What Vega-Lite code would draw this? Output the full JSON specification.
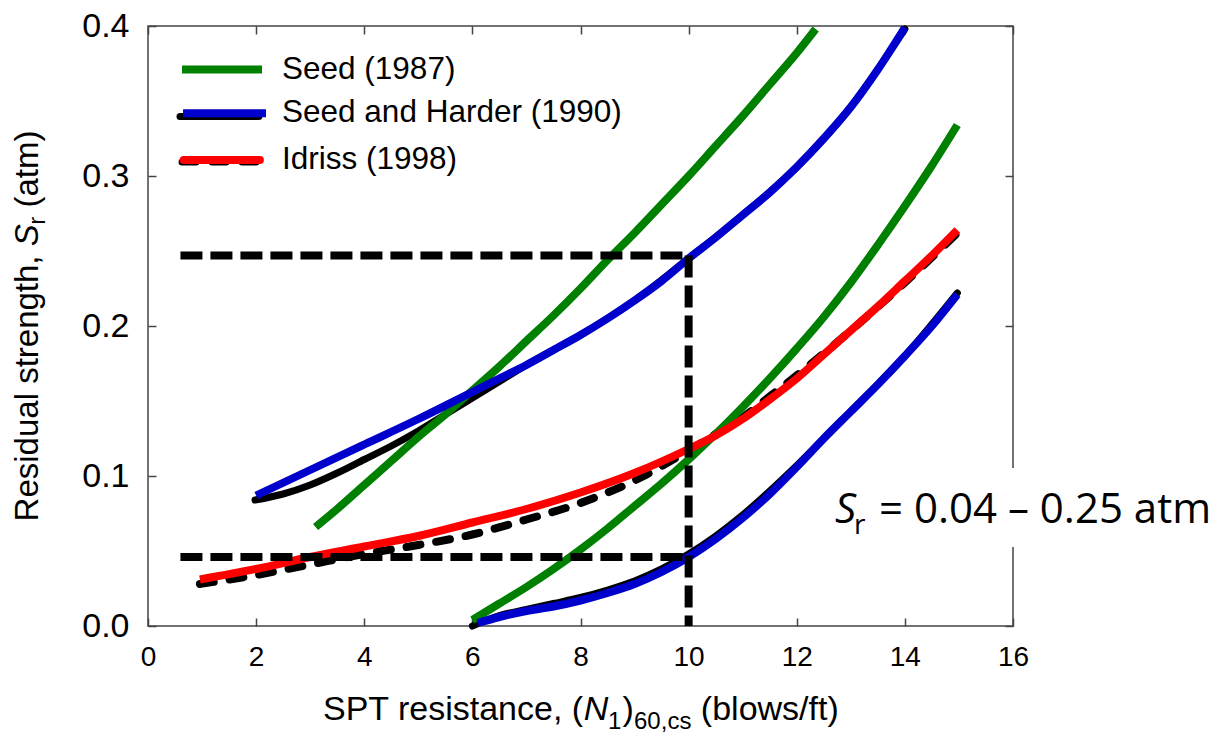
{
  "$schema": "https://vega.github.io/schema/vega-lite/v6.json",
  "width": 865,
  "height": 600,
  "autosize": {"type": "none"},
  "padding": {"left": 148, "top": 26, "right": 204, "bottom": 109},
  "background": "white",
  "config": {
    "view": {"stroke": "#444444", "strokeWidth": 1.5},
    "font": "Liberation Sans",
    "axis": {"grid": false, "domain": false, "title": null, "tickColor": "#444444", "tickWidth": 1.5, "tickSize": -8, "labelColor": "black", "labelFont": "Liberation Sans", "labelFlush": false, "labelOverlap": false}
  },
  "data": {"values": [{}]},
  "datasets": {
    "curves": [
      {"study": "Seed (1987)", "branch": "S87a", "n160": 3.1, "sr": 0.066},
      {"study": "Seed (1987)", "branch": "S87a", "n160": 3.5, "sr": 0.078},
      {"study": "Seed (1987)", "branch": "S87a", "n160": 4.0, "sr": 0.094},
      {"study": "Seed (1987)", "branch": "S87a", "n160": 4.5, "sr": 0.110},
      {"study": "Seed (1987)", "branch": "S87a", "n160": 5.0, "sr": 0.126},
      {"study": "Seed (1987)", "branch": "S87a", "n160": 5.5, "sr": 0.141},
      {"study": "Seed (1987)", "branch": "S87a", "n160": 6.0, "sr": 0.157},
      {"study": "Seed (1987)", "branch": "S87a", "n160": 6.5, "sr": 0.173},
      {"study": "Seed (1987)", "branch": "S87a", "n160": 7.0, "sr": 0.190},
      {"study": "Seed (1987)", "branch": "S87a", "n160": 7.5, "sr": 0.207},
      {"study": "Seed (1987)", "branch": "S87a", "n160": 8.0, "sr": 0.225},
      {"study": "Seed (1987)", "branch": "S87a", "n160": 8.5, "sr": 0.244},
      {"study": "Seed (1987)", "branch": "S87a", "n160": 9.0, "sr": 0.262},
      {"study": "Seed (1987)", "branch": "S87a", "n160": 9.5, "sr": 0.281},
      {"study": "Seed (1987)", "branch": "S87a", "n160": 10.0, "sr": 0.300},
      {"study": "Seed (1987)", "branch": "S87a", "n160": 10.5, "sr": 0.320},
      {"study": "Seed (1987)", "branch": "S87a", "n160": 11.0, "sr": 0.340},
      {"study": "Seed (1987)", "branch": "S87a", "n160": 11.5, "sr": 0.361},
      {"study": "Seed (1987)", "branch": "S87a", "n160": 12.0, "sr": 0.382},
      {"study": "Seed (1987)", "branch": "S87a", "n160": 12.35, "sr": 0.398},
      {"study": "Seed (1987)", "branch": "S87b", "n160": 6.0, "sr": 0.004},
      {"study": "Seed (1987)", "branch": "S87b", "n160": 6.5, "sr": 0.015},
      {"study": "Seed (1987)", "branch": "S87b", "n160": 7.0, "sr": 0.026},
      {"study": "Seed (1987)", "branch": "S87b", "n160": 7.5, "sr": 0.038},
      {"study": "Seed (1987)", "branch": "S87b", "n160": 8.0, "sr": 0.051},
      {"study": "Seed (1987)", "branch": "S87b", "n160": 8.5, "sr": 0.065},
      {"study": "Seed (1987)", "branch": "S87b", "n160": 9.0, "sr": 0.080},
      {"study": "Seed (1987)", "branch": "S87b", "n160": 9.5, "sr": 0.095},
      {"study": "Seed (1987)", "branch": "S87b", "n160": 10.0, "sr": 0.111},
      {"study": "Seed (1987)", "branch": "S87b", "n160": 10.5, "sr": 0.128},
      {"study": "Seed (1987)", "branch": "S87b", "n160": 11.0, "sr": 0.146},
      {"study": "Seed (1987)", "branch": "S87b", "n160": 11.5, "sr": 0.165},
      {"study": "Seed (1987)", "branch": "S87b", "n160": 12.0, "sr": 0.185},
      {"study": "Seed (1987)", "branch": "S87b", "n160": 12.5, "sr": 0.206},
      {"study": "Seed (1987)", "branch": "S87b", "n160": 13.0, "sr": 0.229},
      {"study": "Seed (1987)", "branch": "S87b", "n160": 13.5, "sr": 0.254},
      {"study": "Seed (1987)", "branch": "S87b", "n160": 14.0, "sr": 0.280},
      {"study": "Seed (1987)", "branch": "S87b", "n160": 14.5, "sr": 0.307},
      {"study": "Seed (1987)", "branch": "S87b", "n160": 14.97, "sr": 0.334},
      {"study": "Seed and Harder (1990)", "branch": "SH90a", "n160": 2.0, "sr": 0.087},
      {"study": "Seed and Harder (1990)", "branch": "SH90a", "n160": 3.0, "sr": 0.104},
      {"study": "Seed and Harder (1990)", "branch": "SH90a", "n160": 4.0, "sr": 0.121},
      {"study": "Seed and Harder (1990)", "branch": "SH90a", "n160": 5.0, "sr": 0.138},
      {"study": "Seed and Harder (1990)", "branch": "SH90a", "n160": 6.0, "sr": 0.156},
      {"study": "Seed and Harder (1990)", "branch": "SH90a", "n160": 6.5, "sr": 0.165},
      {"study": "Seed and Harder (1990)", "branch": "SH90a", "n160": 7.0, "sr": 0.174},
      {"study": "Seed and Harder (1990)", "branch": "SH90a", "n160": 7.5, "sr": 0.184},
      {"study": "Seed and Harder (1990)", "branch": "SH90a", "n160": 8.0, "sr": 0.194},
      {"study": "Seed and Harder (1990)", "branch": "SH90a", "n160": 8.5, "sr": 0.205},
      {"study": "Seed and Harder (1990)", "branch": "SH90a", "n160": 9.0, "sr": 0.217},
      {"study": "Seed and Harder (1990)", "branch": "SH90a", "n160": 9.5, "sr": 0.230},
      {"study": "Seed and Harder (1990)", "branch": "SH90a", "n160": 10.0, "sr": 0.245},
      {"study": "Seed and Harder (1990)", "branch": "SH90a", "n160": 10.5, "sr": 0.259},
      {"study": "Seed and Harder (1990)", "branch": "SH90a", "n160": 11.0, "sr": 0.274},
      {"study": "Seed and Harder (1990)", "branch": "SH90a", "n160": 11.5, "sr": 0.289},
      {"study": "Seed and Harder (1990)", "branch": "SH90a", "n160": 12.0, "sr": 0.306},
      {"study": "Seed and Harder (1990)", "branch": "SH90a", "n160": 12.5, "sr": 0.325},
      {"study": "Seed and Harder (1990)", "branch": "SH90a", "n160": 13.0, "sr": 0.346},
      {"study": "Seed and Harder (1990)", "branch": "SH90a", "n160": 13.5, "sr": 0.371},
      {"study": "Seed and Harder (1990)", "branch": "SH90a", "n160": 14.0, "sr": 0.399},
      {"study": "Seed and Harder (1990)", "branch": "SH90b", "n160": 6.1, "sr": 0.002},
      {"study": "Seed and Harder (1990)", "branch": "SH90b", "n160": 6.5, "sr": 0.006},
      {"study": "Seed and Harder (1990)", "branch": "SH90b", "n160": 7.0, "sr": 0.010},
      {"study": "Seed and Harder (1990)", "branch": "SH90b", "n160": 7.5, "sr": 0.013},
      {"study": "Seed and Harder (1990)", "branch": "SH90b", "n160": 8.0, "sr": 0.017},
      {"study": "Seed and Harder (1990)", "branch": "SH90b", "n160": 8.5, "sr": 0.022},
      {"study": "Seed and Harder (1990)", "branch": "SH90b", "n160": 9.0, "sr": 0.028},
      {"study": "Seed and Harder (1990)", "branch": "SH90b", "n160": 9.5, "sr": 0.036},
      {"study": "Seed and Harder (1990)", "branch": "SH90b", "n160": 10.0, "sr": 0.046},
      {"study": "Seed and Harder (1990)", "branch": "SH90b", "n160": 10.5, "sr": 0.058},
      {"study": "Seed and Harder (1990)", "branch": "SH90b", "n160": 11.0, "sr": 0.072},
      {"study": "Seed and Harder (1990)", "branch": "SH90b", "n160": 11.5, "sr": 0.088},
      {"study": "Seed and Harder (1990)", "branch": "SH90b", "n160": 12.0, "sr": 0.106},
      {"study": "Seed and Harder (1990)", "branch": "SH90b", "n160": 12.5, "sr": 0.125},
      {"study": "Seed and Harder (1990)", "branch": "SH90b", "n160": 13.0, "sr": 0.143},
      {"study": "Seed and Harder (1990)", "branch": "SH90b", "n160": 13.5, "sr": 0.161},
      {"study": "Seed and Harder (1990)", "branch": "SH90b", "n160": 14.0, "sr": 0.180},
      {"study": "Seed and Harder (1990)", "branch": "SH90b", "n160": 14.5, "sr": 0.200},
      {"study": "Seed and Harder (1990)", "branch": "SH90b", "n160": 14.97, "sr": 0.221},
      {"study": "Idriss (1998)", "branch": "I98", "n160": 0.96, "sr": 0.031},
      {"study": "Idriss (1998)", "branch": "I98", "n160": 2.0, "sr": 0.038},
      {"study": "Idriss (1998)", "branch": "I98", "n160": 3.0, "sr": 0.046},
      {"study": "Idriss (1998)", "branch": "I98", "n160": 4.0, "sr": 0.053},
      {"study": "Idriss (1998)", "branch": "I98", "n160": 5.0, "sr": 0.060},
      {"study": "Idriss (1998)", "branch": "I98", "n160": 6.0, "sr": 0.069},
      {"study": "Idriss (1998)", "branch": "I98", "n160": 7.0, "sr": 0.078},
      {"study": "Idriss (1998)", "branch": "I98", "n160": 8.0, "sr": 0.089},
      {"study": "Idriss (1998)", "branch": "I98", "n160": 9.0, "sr": 0.102},
      {"study": "Idriss (1998)", "branch": "I98", "n160": 10.0, "sr": 0.118},
      {"study": "Idriss (1998)", "branch": "I98", "n160": 10.5, "sr": 0.127},
      {"study": "Idriss (1998)", "branch": "I98", "n160": 11.0, "sr": 0.138},
      {"study": "Idriss (1998)", "branch": "I98", "n160": 11.5, "sr": 0.151},
      {"study": "Idriss (1998)", "branch": "I98", "n160": 12.0, "sr": 0.165},
      {"study": "Idriss (1998)", "branch": "I98", "n160": 12.5, "sr": 0.181},
      {"study": "Idriss (1998)", "branch": "I98", "n160": 13.0, "sr": 0.197},
      {"study": "Idriss (1998)", "branch": "I98", "n160": 13.5, "sr": 0.213},
      {"study": "Idriss (1998)", "branch": "I98", "n160": 14.0, "sr": 0.230},
      {"study": "Idriss (1998)", "branch": "I98", "n160": 14.5, "sr": 0.247},
      {"study": "Idriss (1998)", "branch": "I98", "n160": 14.97, "sr": 0.264}
    ],
    "traces": [
      {"source": "Seed and Harder (1990)", "branch": "SH90a", "n160": 1.98, "sr": 0.084},
      {"source": "Seed and Harder (1990)", "branch": "SH90a", "n160": 2.5, "sr": 0.088},
      {"source": "Seed and Harder (1990)", "branch": "SH90a", "n160": 3.0, "sr": 0.094},
      {"source": "Seed and Harder (1990)", "branch": "SH90a", "n160": 3.5, "sr": 0.102},
      {"source": "Seed and Harder (1990)", "branch": "SH90a", "n160": 4.0, "sr": 0.111},
      {"source": "Seed and Harder (1990)", "branch": "SH90a", "n160": 4.5, "sr": 0.120},
      {"source": "Seed and Harder (1990)", "branch": "SH90a", "n160": 5.0, "sr": 0.130},
      {"source": "Seed and Harder (1990)", "branch": "SH90a", "n160": 5.5, "sr": 0.141},
      {"source": "Seed and Harder (1990)", "branch": "SH90a", "n160": 6.0, "sr": 0.152},
      {"source": "Seed and Harder (1990)", "branch": "SH90a", "n160": 6.5, "sr": 0.163},
      {"source": "Seed and Harder (1990)", "branch": "SH90a", "n160": 7.0, "sr": 0.174},
      {"source": "Seed and Harder (1990)", "branch": "SH90a", "n160": 8.0, "sr": 0.194},
      {"source": "Seed and Harder (1990)", "branch": "SH90a", "n160": 9.0, "sr": 0.217},
      {"source": "Seed and Harder (1990)", "branch": "SH90a", "n160": 10.0, "sr": 0.245},
      {"source": "Seed and Harder (1990)", "branch": "SH90a", "n160": 11.0, "sr": 0.274},
      {"source": "Seed and Harder (1990)", "branch": "SH90a", "n160": 12.0, "sr": 0.306},
      {"source": "Seed and Harder (1990)", "branch": "SH90a", "n160": 13.0, "sr": 0.346},
      {"source": "Seed and Harder (1990)", "branch": "SH90a", "n160": 14.0, "sr": 0.398},
      {"source": "Seed and Harder (1990)", "branch": "SH90b", "n160": 6.0, "sr": 0.0},
      {"source": "Seed and Harder (1990)", "branch": "SH90b", "n160": 6.5, "sr": 0.007},
      {"source": "Seed and Harder (1990)", "branch": "SH90b", "n160": 7.0, "sr": 0.011},
      {"source": "Seed and Harder (1990)", "branch": "SH90b", "n160": 7.5, "sr": 0.015},
      {"source": "Seed and Harder (1990)", "branch": "SH90b", "n160": 8.0, "sr": 0.019},
      {"source": "Seed and Harder (1990)", "branch": "SH90b", "n160": 8.5, "sr": 0.024},
      {"source": "Seed and Harder (1990)", "branch": "SH90b", "n160": 9.0, "sr": 0.030},
      {"source": "Seed and Harder (1990)", "branch": "SH90b", "n160": 9.5, "sr": 0.038},
      {"source": "Seed and Harder (1990)", "branch": "SH90b", "n160": 10.0, "sr": 0.048},
      {"source": "Seed and Harder (1990)", "branch": "SH90b", "n160": 10.5, "sr": 0.060},
      {"source": "Seed and Harder (1990)", "branch": "SH90b", "n160": 11.0, "sr": 0.074},
      {"source": "Seed and Harder (1990)", "branch": "SH90b", "n160": 11.5, "sr": 0.090},
      {"source": "Seed and Harder (1990)", "branch": "SH90b", "n160": 12.0, "sr": 0.107},
      {"source": "Seed and Harder (1990)", "branch": "SH90b", "n160": 13.0, "sr": 0.143},
      {"source": "Seed and Harder (1990)", "branch": "SH90b", "n160": 14.0, "sr": 0.180},
      {"source": "Seed and Harder (1990)", "branch": "SH90b", "n160": 14.97, "sr": 0.222},
      {"source": "Idriss (1998)", "branch": "I98", "n160": 0.96, "sr": 0.028},
      {"source": "Idriss (1998)", "branch": "I98", "n160": 2.0, "sr": 0.034},
      {"source": "Idriss (1998)", "branch": "I98", "n160": 3.0, "sr": 0.041},
      {"source": "Idriss (1998)", "branch": "I98", "n160": 4.0, "sr": 0.048},
      {"source": "Idriss (1998)", "branch": "I98", "n160": 5.0, "sr": 0.054},
      {"source": "Idriss (1998)", "branch": "I98", "n160": 6.0, "sr": 0.061},
      {"source": "Idriss (1998)", "branch": "I98", "n160": 7.0, "sr": 0.071},
      {"source": "Idriss (1998)", "branch": "I98", "n160": 8.0, "sr": 0.082},
      {"source": "Idriss (1998)", "branch": "I98", "n160": 9.0, "sr": 0.097},
      {"source": "Idriss (1998)", "branch": "I98", "n160": 10.0, "sr": 0.117},
      {"source": "Idriss (1998)", "branch": "I98", "n160": 10.5, "sr": 0.128},
      {"source": "Idriss (1998)", "branch": "I98", "n160": 11.0, "sr": 0.139},
      {"source": "Idriss (1998)", "branch": "I98", "n160": 11.5, "sr": 0.153},
      {"source": "Idriss (1998)", "branch": "I98", "n160": 12.0, "sr": 0.167},
      {"source": "Idriss (1998)", "branch": "I98", "n160": 13.0, "sr": 0.197},
      {"source": "Idriss (1998)", "branch": "I98", "n160": 14.0, "sr": 0.229},
      {"source": "Idriss (1998)", "branch": "I98", "n160": 14.97, "sr": 0.262}
    ],
    "guides": [
      {"guide": "upper", "n160": 0.6, "sr": 0.247},
      {"guide": "upper", "n160": 10.0, "sr": 0.247},
      {"guide": "lower", "n160": 0.6, "sr": 0.046},
      {"guide": "lower", "n160": 10.0, "sr": 0.046},
      {"guide": "vertical", "n160": 10.0, "sr": 0.247},
      {"guide": "vertical", "n160": 10.0, "sr": 0.0}
    ]
  },
  "resolve": {"axis": {"x": "independent", "y": "independent"}},
  "layer": [
    {
      "data": {"name": "traces"},
      "transform": [{"filter": "datum.source === 'Seed and Harder (1990)'"}],
      "mark": {"type": "line", "color": "black", "strokeWidth": 7, "strokeCap": "round", "strokeJoin": "round", "interpolate": "monotone"},
      "encoding": {
        "x": {"field": "n160", "type": "quantitative", "scale": {"domain": [0, 16], "nice": false, "zero": false},
              "axis": {"orient": "bottom", "values": [0, 2, 4, 6, 8, 10, 12, 14, 16], "format": "d", "labelFontSize": 28, "labelPadding": 25}},
        "y": {"field": "sr", "type": "quantitative", "scale": {"domain": [0, 0.4], "nice": false, "zero": false},
              "axis": {"orient": "left", "values": [0, 0.1, 0.2, 0.3, 0.4], "format": ".1f", "labelFontSize": 34, "labelPadding": 27}},
        "detail": {"field": "branch"},
        "order": {"field": "n160"}
      }
    },
    {
      "data": {"name": "traces"},
      "transform": [{"filter": "datum.source === 'Idriss (1998)'"}],
      "mark": {"type": "line", "color": "black", "strokeWidth": 8, "strokeCap": "round", "strokeDash": [14, 16], "interpolate": "monotone"},
      "encoding": {
        "x": {"field": "n160", "type": "quantitative", "axis": {"orient": "top", "values": [0, 2, 4, 6, 8, 10, 12, 14, 16], "labels": false}},
        "y": {"field": "sr", "type": "quantitative", "axis": {"orient": "right", "values": [0, 0.1, 0.2, 0.3, 0.4], "labels": false}},
        "detail": {"field": "branch"},
        "order": {"field": "n160"}
      }
    },
    {
      "data": {"name": "curves"},
      "mark": {"type": "line", "strokeWidth": 8, "strokeCap": "butt", "strokeJoin": "round", "interpolate": "monotone"},
      "encoding": {
        "x": {"field": "n160", "type": "quantitative", "axis": null},
        "y": {"field": "sr", "type": "quantitative", "axis": null},
        "color": {"field": "study", "type": "nominal", "legend": null,
                  "scale": {"domain": ["Seed (1987)", "Seed and Harder (1990)", "Idriss (1998)"], "range": ["#008000", "#0000cc", "#ff0000"]}},
        "detail": {"field": "branch"},
        "order": {"field": "n160"}
      }
    },
    {
      "data": {"name": "guides"},
      "mark": {"type": "line", "color": "black", "strokeWidth": 8, "strokeDash": [22, 8]},
      "encoding": {
        "x": {"field": "n160", "type": "quantitative", "axis": null},
        "y": {"field": "sr", "type": "quantitative", "axis": null},
        "detail": {"field": "guide"},
        "order": {"field": "sr", "sort": "descending"}
      }
    },
    {
      "mark": {"type": "rect", "color": "white"},
      "encoding": {
        "x": {"datum": 12.45, "type": "quantitative", "axis": null},
        "x2": {"datum": 16.4},
        "y": {"datum": 0.0527, "type": "quantitative", "axis": null},
        "y2": {"datum": 0.1053}
      }
    },
    {
      "mark": {"type": "text", "font": "Open Sans", "fontSize": 42, "fontStyle": "italic", "align": "left", "baseline": "alphabetic", "color": "black", "text": "S"},
      "encoding": {"x": {"datum": 12.708, "type": "quantitative", "axis": null}, "y": {"datum": 0.0687, "type": "quantitative", "axis": null}}
    },
    {
      "mark": {"type": "text", "font": "Open Sans", "fontSize": 28, "align": "left", "baseline": "alphabetic", "color": "black", "text": "r"},
      "encoding": {"x": {"datum": 13.059, "type": "quantitative", "axis": null}, "y": {"datum": 0.0613, "type": "quantitative", "axis": null}}
    },
    {
      "mark": {"type": "text", "font": "Open Sans", "fontSize": 42, "align": "left", "baseline": "alphabetic", "color": "black", "text": "= 0.04 – 0.25 atm"},
      "encoding": {"x": {"datum": 13.522, "type": "quantitative", "axis": null}, "y": {"datum": 0.0687, "type": "quantitative", "axis": null}}
    },
    {
      "mark": {"type": "rule", "color": "#008000", "strokeWidth": 8},
      "encoding": {"x": {"datum": 0.629, "type": "quantitative", "axis": null}, "x2": {"datum": 2.109}, "y": {"datum": 0.371, "type": "quantitative", "axis": null}}
    },
    {
      "mark": {"type": "rule", "color": "black", "strokeWidth": 7, "strokeCap": "round"},
      "encoding": {"x": {"datum": 0.592, "type": "quantitative", "axis": null}, "x2": {"datum": 2.05}, "y": {"datum": 0.3396, "type": "quantitative", "axis": null}}
    },
    {
      "mark": {"type": "rule", "color": "#0000cc", "strokeWidth": 8},
      "encoding": {"x": {"datum": 0.648, "type": "quantitative", "axis": null}, "x2": {"datum": 2.183}, "y": {"datum": 0.3418, "type": "quantitative", "axis": null}}
    },
    {
      "mark": {"type": "rule", "color": "black", "strokeWidth": 7, "strokeCap": "round", "strokeDash": [14, 16]},
      "encoding": {"x": {"datum": 0.63, "type": "quantitative", "axis": null}, "x2": {"datum": 2.09}, "y": {"datum": 0.3093, "type": "quantitative", "axis": null}}
    },
    {
      "mark": {"type": "rule", "color": "#ff0000", "strokeWidth": 8, "strokeCap": "round"},
      "encoding": {"x": {"datum": 0.66, "type": "quantitative", "axis": null}, "x2": {"datum": 2.07}, "y": {"datum": 0.3107, "type": "quantitative", "axis": null}}
    },
    {
      "mark": {"type": "text", "fontSize": 31.5, "align": "left", "baseline": "middle", "color": "black", "text": "Seed (1987)"},
      "encoding": {"x": {"datum": 2.479, "type": "quantitative", "axis": null}, "y": {"datum": 0.371, "type": "quantitative", "axis": null}}
    },
    {
      "mark": {"type": "text", "fontSize": 31.5, "align": "left", "baseline": "middle", "color": "black", "text": "Seed and Harder (1990)"},
      "encoding": {"x": {"datum": 2.479, "type": "quantitative", "axis": null}, "y": {"datum": 0.3418, "type": "quantitative", "axis": null}}
    },
    {
      "mark": {"type": "text", "fontSize": 31.5, "align": "left", "baseline": "middle", "color": "black", "text": "Idriss (1998)"},
      "encoding": {"x": {"datum": 2.479, "type": "quantitative", "axis": null}, "y": {"datum": 0.3107, "type": "quantitative", "axis": null}}
    },
    {
      "mark": {"type": "text", "fontSize": 34, "align": "left", "baseline": "alphabetic", "color": "black", "text": "SPT resistance, ("},
      "encoding": {"x": {"datum": 3.237, "type": "quantitative", "axis": null}, "y": {"datum": -0.0627, "type": "quantitative", "axis": null}}
    },
    {
      "mark": {"type": "text", "fontSize": 34, "fontStyle": "italic", "align": "left", "baseline": "alphabetic", "color": "black", "text": "N"},
      "encoding": {"x": {"datum": 8.059, "type": "quantitative", "axis": null}, "y": {"datum": -0.0627, "type": "quantitative", "axis": null}}
    },
    {
      "mark": {"type": "text", "fontSize": 24, "align": "left", "baseline": "alphabetic", "color": "black", "text": "1"},
      "encoding": {"x": {"datum": 8.51, "type": "quantitative", "axis": null}, "y": {"datum": -0.0684, "type": "quantitative", "axis": null}}
    },
    {
      "mark": {"type": "text", "fontSize": 34, "align": "left", "baseline": "alphabetic", "color": "black", "text": ")"},
      "encoding": {"x": {"datum": 8.777, "type": "quantitative", "axis": null}, "y": {"datum": -0.0627, "type": "quantitative", "axis": null}}
    },
    {
      "mark": {"type": "text", "fontSize": 24, "align": "left", "baseline": "alphabetic", "color": "black", "text": "60,cs"},
      "encoding": {"x": {"datum": 8.99, "type": "quantitative", "axis": null}, "y": {"datum": -0.0684, "type": "quantitative", "axis": null}}
    },
    {
      "mark": {"type": "text", "fontSize": 34, "align": "left", "baseline": "alphabetic", "color": "black", "text": "(blows/ft)"},
      "encoding": {"x": {"datum": 10.226, "type": "quantitative", "axis": null}, "y": {"datum": -0.0627, "type": "quantitative", "axis": null}}
    },
    {
      "mark": {"type": "text", "fontSize": 33, "angle": 270, "align": "left", "baseline": "alphabetic", "color": "black", "text": "Residual strength,"},
      "encoding": {"x": {"datum": -2.035, "type": "quantitative", "axis": null}, "y": {"datum": 0.0697, "type": "quantitative", "axis": null}}
    },
    {
      "mark": {"type": "text", "fontSize": 33, "fontStyle": "italic", "angle": 270, "align": "left", "baseline": "alphabetic", "color": "black", "text": "S"},
      "encoding": {"x": {"datum": -2.035, "type": "quantitative", "axis": null}, "y": {"datum": 0.2531, "type": "quantitative", "axis": null}}
    },
    {
      "mark": {"type": "text", "fontSize": 23, "angle": 270, "align": "left", "baseline": "alphabetic", "color": "black", "text": "r"},
      "encoding": {"x": {"datum": -1.905, "type": "quantitative", "axis": null}, "y": {"datum": 0.2677, "type": "quantitative", "axis": null}}
    },
    {
      "mark": {"type": "text", "fontSize": 33, "angle": 270, "align": "left", "baseline": "alphabetic", "color": "black", "text": "(atm)"},
      "encoding": {"x": {"datum": -2.035, "type": "quantitative", "axis": null}, "y": {"datum": 0.2790, "type": "quantitative", "axis": null}}
    }
  ]
}
